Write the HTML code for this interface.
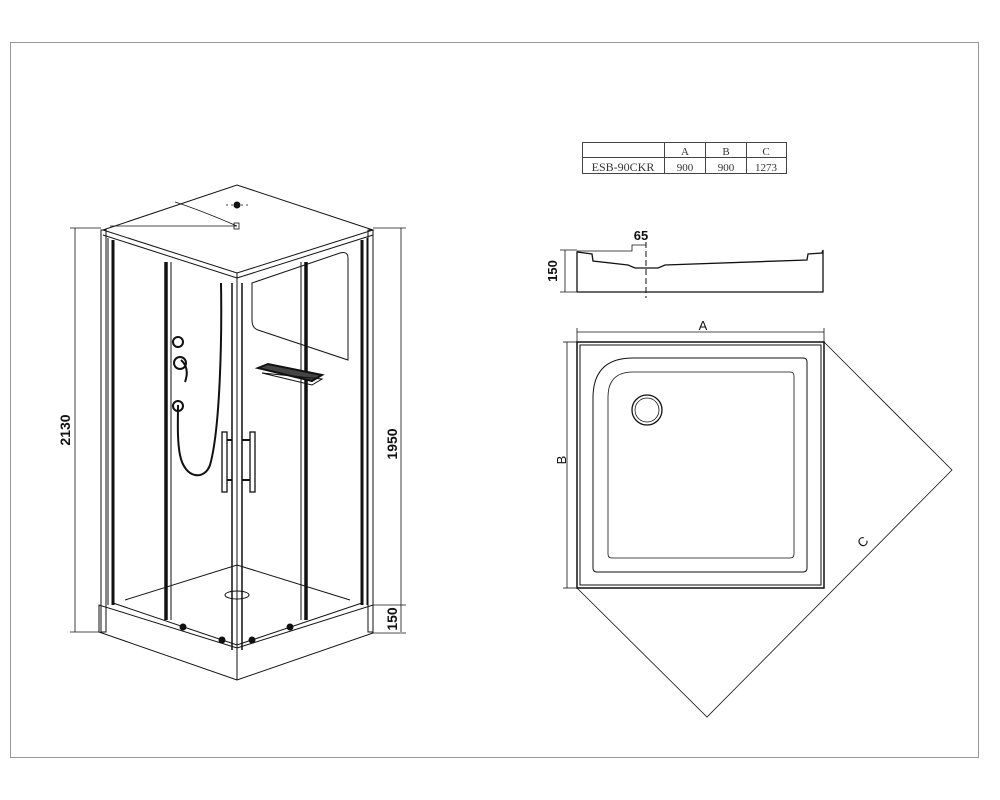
<!DOCTYPE html>
<html><head><meta charset="utf-8"><style>
html,body{margin:0;padding:0;background:#fff}
svg{display:block}
text{font-family:"Liberation Sans",sans-serif;fill:#111}
.s{font-family:"Liberation Serif",serif;fill:#333}
</style></head><body>
<svg width="1000" height="800" viewBox="0 0 1000 800" xmlns="http://www.w3.org/2000/svg">
<rect x="10.5" y="42.5" width="968" height="715" fill="none" stroke="#999" stroke-width="1"/>

<g stroke="#444" stroke-width="1" fill="none">
<rect x="582.5" y="142.5" width="204" height="31"/>
<line x1="582" y1="157.5" x2="787" y2="157.5"/>
<line x1="664.5" y1="142" x2="664.5" y2="174"/>
<line x1="705.5" y1="142" x2="705.5" y2="174"/>
<line x1="746.5" y1="142" x2="746.5" y2="174"/>
</g>
<g text-anchor="middle">
<text class="s" x="685" y="155" font-size="11">A</text><text class="s" x="726" y="155" font-size="11">B</text><text class="s" x="766" y="155" font-size="11">C</text>
<text class="s" x="623" y="171" font-size="12">ESB-90CKR</text>
<text class="s" x="685" y="171" font-size="11">900</text><text class="s" x="726" y="171" font-size="11">900</text><text class="s" x="766" y="171" font-size="11">1273</text>
</g>

<g stroke="#111" fill="none" stroke-width="1.3">
<polyline points="577,292 577,252 592,254 593,261 628,265 635,268 658,268 665,265 807,260 808,254 822,253 823,250 823,292 577,292"/>
<line x1="646" y1="242" x2="646" y2="298" stroke-dasharray="6,3" stroke-width="1"/>
<polyline points="577,251 632,251 632,245 646,245" stroke-width="0.8"/>
<line x1="565" y1="250" x2="565" y2="292" stroke-width="0.8"/>
<line x1="560" y1="250" x2="577" y2="250" stroke-width="0.8"/>
<line x1="560" y1="292" x2="577" y2="292" stroke-width="0.8"/>
</g>
<text x="641" y="240" font-size="13" font-weight="bold" text-anchor="middle">65</text>
<text font-size="13" font-weight="bold" text-anchor="middle" transform="translate(557,271) rotate(-90)">150</text>

<g stroke="#111" fill="none">
<rect x="577" y="342" width="247" height="246" stroke-width="1.5"/>
<rect x="580" y="345" width="241" height="240" stroke-width="1"/>
<path d="M633,358 H803 Q807,358 807,362 V568 Q807,572 803,572 H597 Q593,572 593,568 V398 Q593,358 633,358 Z" stroke-width="1"/>
<path d="M633,372 H790 Q794,372 794,376 V554 Q794,558 790,558 H612 Q608,558 608,554 V397 Q608,372 633,372 Z" stroke-width="0.8"/>
<circle cx="647" cy="410" r="15" stroke-width="1.3"/>
<circle cx="647" cy="410" r="12" stroke-width="0.8"/>
<line x1="577" y1="332" x2="824" y2="332" stroke-width="0.8"/>
<line x1="577" y1="328" x2="577" y2="342" stroke-width="0.8"/>
<line x1="824" y1="328" x2="824" y2="342" stroke-width="0.8"/>
<line x1="567" y1="342" x2="567" y2="588" stroke-width="0.8"/>
<line x1="563" y1="342" x2="577" y2="342" stroke-width="0.8"/>
<line x1="563" y1="588" x2="577" y2="588" stroke-width="0.8"/>
<polyline points="824,342 952,470 707,717 577,588" stroke-width="0.8"/>
</g>
<text x="703" y="330" font-size="13" text-anchor="middle">A</text>
<text font-size="13" text-anchor="middle" transform="translate(566,460) rotate(-90)">B</text>
<text font-size="13" text-anchor="middle" transform="translate(866,545) rotate(-45)">C</text>

<g stroke="#111" fill="none" stroke-width="1">
<polygon points="103,230 237,185 373,230 237,273"/>
<polyline points="103,235 237,278 373,235"/>
<line x1="237" y1="273" x2="237" y2="283"/>
<path d="M175,202 Q200,210 237,226" stroke-width="0.8"/>
<line x1="110" y1="226" x2="237" y2="226" stroke-width="0.7"/>
<rect x="234" y="223" width="5" height="6" stroke-width="0.8"/>
<circle cx="237" cy="205" r="3" fill="#111"/>
<line x1="226" y1="205" x2="249" y2="205" stroke-dasharray="2,3" stroke-width="0.8"/>
<rect x="101" y="230" width="5" height="402"/>
<rect x="368" y="230" width="5" height="402"/>
<line x1="113" y1="240" x2="113" y2="605" stroke-width="3"/>
<line x1="362" y1="240" x2="362" y2="605" stroke-width="3"/>
<line x1="108" y1="238" x2="108" y2="605"/>
<line x1="367" y1="238" x2="367" y2="605"/>
<line x1="166" y1="262" x2="166" y2="620" stroke-width="3.5"/>
<line x1="306" y1="262" x2="306" y2="620" stroke-width="3.5"/>
<line x1="171" y1="262" x2="171" y2="620"/>
<line x1="301" y1="262" x2="301" y2="620"/>
<line x1="232" y1="283" x2="232" y2="650" stroke-width="1.5"/>
<line x1="237" y1="283" x2="237" y2="650"/>
<line x1="242" y1="283" x2="242" y2="650" stroke-width="1.5"/>
<polygon points="99,605 99,632 237,680 373,633 373,605 237,648"/>
<line x1="237" y1="648" x2="237" y2="680"/>
<polyline points="113,603 237,645 362,603"/>
<polyline points="125,600 237,565 350,600"/>
<ellipse cx="237" cy="595" rx="12" ry="4"/>
<path d="M252,283 L340,253 Q348,251 348,258 V360 L258,330 Q252,328 252,320 Z"/>
<polygon points="258,368 268,364 322,375 312,381" stroke-width="2" fill="#444"/>
<polygon points="262,373 312,385 322,379"/>
<path d="M221,283 C222,340 220,430 210,465 C205,480 185,480 180,455 C177,440 178,420 178,405" stroke-width="2"/>
<circle cx="178" cy="342" r="5" stroke-width="2"/>
<circle cx="180" cy="363" r="6" stroke-width="2"/>
<path d="M181,360 Q190,368 185,382" stroke-width="2"/>
<circle cx="178" cy="406" r="5" stroke-width="2"/>
<rect x="222" y="432" width="5" height="60" stroke-width="1.3"/>
<rect x="250" y="432" width="5" height="60" stroke-width="1.3"/>
<line x1="227" y1="440" x2="232" y2="440" stroke-width="2"/>
<line x1="227" y1="480" x2="232" y2="480" stroke-width="2"/>
<line x1="242" y1="440" x2="250" y2="440" stroke-width="2"/>
<line x1="242" y1="480" x2="250" y2="480" stroke-width="2"/>
<circle cx="183" cy="627" r="3" fill="#111"/><circle cx="222" cy="640" r="3" fill="#111"/>
<circle cx="252" cy="640" r="3" fill="#111"/><circle cx="290" cy="627" r="3" fill="#111"/>
<line x1="75" y1="228" x2="75" y2="632" stroke-width="0.8"/>
<line x1="70" y1="228" x2="101" y2="228" stroke-width="0.8"/>
<line x1="70" y1="632" x2="99" y2="632" stroke-width="0.8"/>
<line x1="401" y1="228" x2="401" y2="632" stroke-width="0.8"/>
<line x1="373" y1="228" x2="406" y2="228" stroke-width="0.8"/>
<line x1="373" y1="605" x2="406" y2="605" stroke-width="0.8"/>
<line x1="373" y1="633" x2="406" y2="633" stroke-width="0.8"/>
</g>
<text font-size="14" font-weight="bold" text-anchor="middle" transform="translate(70,430) rotate(-90)">2130</text>
<text font-size="14" font-weight="bold" text-anchor="middle" transform="translate(397,444) rotate(-90)">1950</text>
<text font-size="14" font-weight="bold" text-anchor="middle" transform="translate(397,619) rotate(-90)">150</text>
</svg>
</body></html>
